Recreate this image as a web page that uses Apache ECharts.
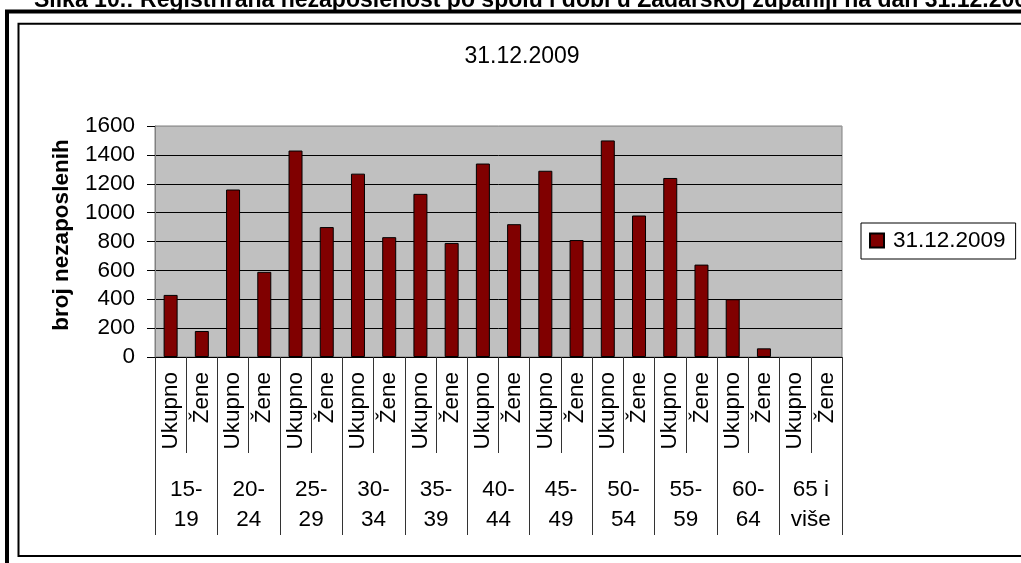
<!DOCTYPE html>
<html>
<head>
<meta charset="utf-8">
<script src="https://cdn.jsdelivr.net/npm/echarts@6/dist/echarts.min.js"></script>
<style>
html,body{margin:0;padding:0;background:#fff;}
#chart{width:1021px;height:563px;}
</style>
</head>
<body>
<div id="chart"></div>
<script>
const pageTitle = 'Slika 10.: Registrirana nezaposlenost po spolu i dobi u Zadarskoj županiji na dan 31.12.2009';
const chartTitle = '31.12.2009';
const seriesName = '31.12.2009';
const yAxisTitle = 'broj nezaposlenih';
const subCategories = [
  'Ukupno','Žene','Ukupno','Žene','Ukupno','Žene','Ukupno','Žene',
  'Ukupno','Žene','Ukupno','Žene','Ukupno','Žene','Ukupno','Žene',
  'Ukupno','Žene','Ukupno','Žene','Ukupno','Žene'
];
const ageGroups = ['15-\n19','20-\n24','25-\n29','30-\n34','35-\n39','40-\n44','45-\n49','50-\n54','55-\n59','60-\n64','65 i\nviše'];
const values = [430,180,1160,590,1430,900,1270,830,1130,790,1340,920,1290,810,1500,980,1240,640,400,60,null,null];
const yTicks = [0,200,400,600,800,1000,1200,1400,1600];

const FONT = '"Liberation Sans", Arial, sans-serif';
const chart = echarts.init(document.getElementById('chart'), null, {renderer:'canvas'});
chart.setOption({
  animation: false,
  backgroundColor: '#fff',
  textStyle: {fontFamily: FONT},
  grid: {
    left: 155, top: 126, right: 179, bottom: 206,
    show: true, backgroundColor: '#C0C0C0', borderColor: '#808080', borderWidth: 1
  },
  legend: {
    data: [seriesName],
    left: 861, top: 223,
    orient: 'vertical',
    padding: [6, 10, 7, 8],
    borderColor: '#000', borderWidth: 1, backgroundColor: '#fff',
    itemWidth: 14, itemHeight: 14,
    icon: 'rect',
    textStyle: {fontSize: 22.5, color: '#000', fontFamily: FONT, padding: [0,0,0,4]}
  },
  xAxis: [
    {
      type: 'category', data: subCategories, position: 'bottom', offset: 0,
      axisLine: {show: true, lineStyle: {color: '#000', width: 1}},
      axisTick: {show: true, interval: 0, length: 96, lineStyle: {color: '#333', width: 1}},
      axisLabel: {interval: 0, rotate: 90, margin: 15, fontSize: 22.5, color: '#000', fontFamily: FONT},
      splitLine: {show: false}
    },
    {
      type: 'category', data: ageGroups, position: 'bottom', offset: 0,
      axisLine: {show: false},
      axisTick: {show: true, interval: 0, length: 178, lineStyle: {color: '#333', width: 1}},
      axisLabel: {interval: 0, margin: 118, fontSize: 22.5, lineHeight: 30, color: '#000', fontFamily: FONT},
      splitLine: {show: false}
    }
  ],
  yAxis: {
    type: 'value', min: yTicks[0], max: yTicks[yTicks.length-1], interval: 200,
    axisLine: {show: true, lineStyle: {color: '#808080', width: 1}},
    axisTick: {show: true, length: 8, lineStyle: {color: '#000'}},
    axisLabel: {fontSize: 22.5, color: '#000', margin: 20, fontFamily: FONT,
      formatter: function (v) { return String(v); }},
    splitLine: {show: true, lineStyle: {color: ['#000','#000','#000','#000','#000','#000','#000','#000','#9a9a9a'], width: 1}}
  },
  series: [{
    name: seriesName, type: 'bar', xAxisIndex: 0, data: values,
    barWidth: 14,
    itemStyle: {color: '#800000', borderColor: '#000', borderWidth: 1}
  }],
  graphic: [
    {type: 'text', x: 34, y: 12, z: 10,
     style: {text: pageTitle, font: 'bold 23px ' + FONT, fill: '#000', verticalAlign: 'bottom', align: 'left'}},
    {type: 'rect', z: 20, shape: {x: 7, y: 11.5, width: 1040, height: 620},
     style: {fill: 'none', stroke: '#000', lineWidth: 4}},
    {type: 'rect', z: 20, shape: {x: 18.5, y: 23.8, width: 1020, height: 532.2},
     style: {fill: 'none', stroke: '#000', lineWidth: 2}},
    {type: 'text', x: 522, y: 57, z: 10,
     style: {text: chartTitle, font: '23px ' + FONT, fill: '#000', align: 'center', verticalAlign: 'middle'}},
    {type: 'text', x: 62, y: 235, rotation: Math.PI/2, z: 10,
     style: {text: yAxisTitle, font: 'bold 22.5px ' + FONT, fill: '#000', align: 'center', verticalAlign: 'middle'}}
  ]
});
</script>
</body>
</html>
